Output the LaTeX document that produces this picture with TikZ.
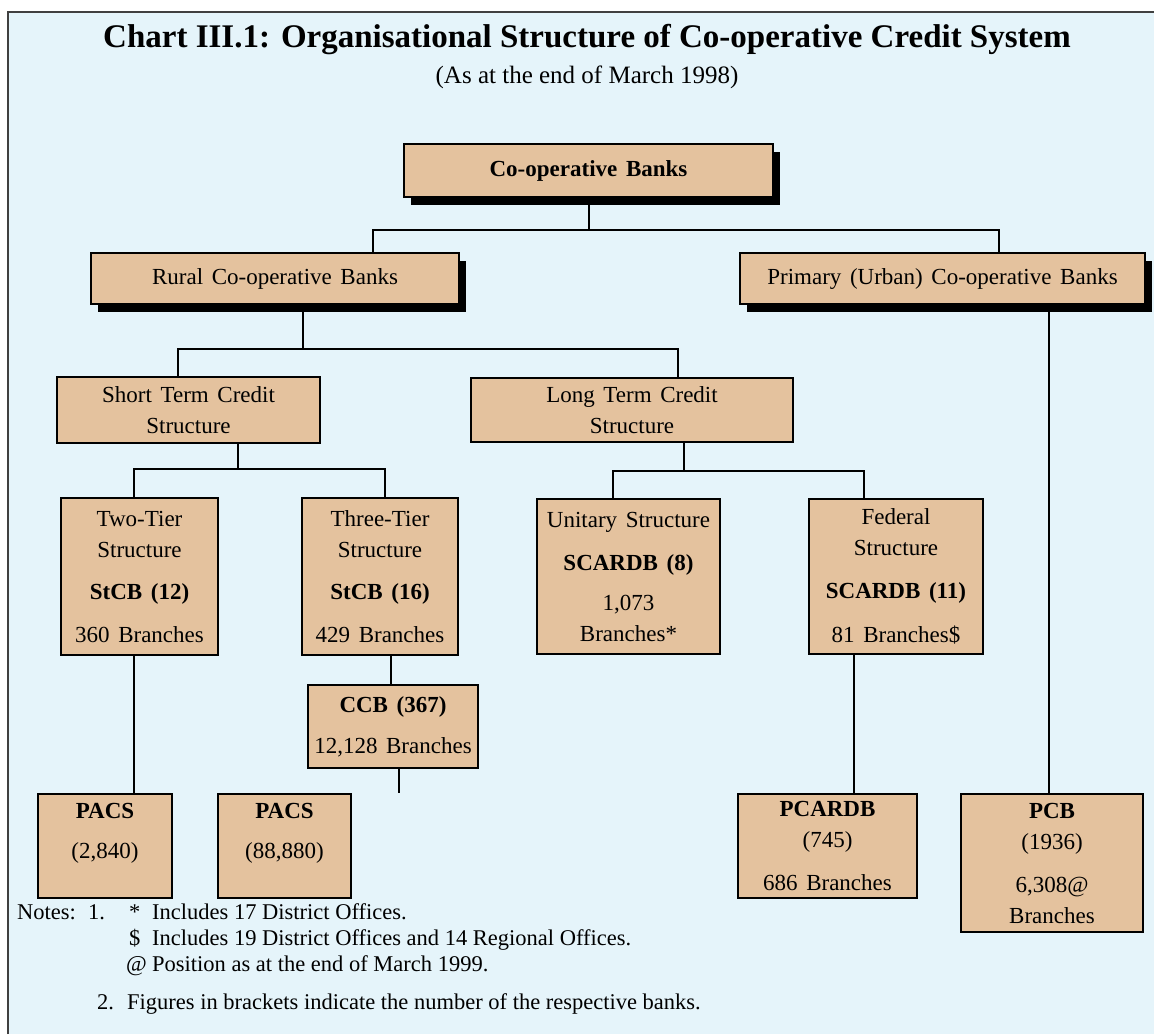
\documentclass[tikz,border=0pt]{standalone}
\usepackage{fontspec}
\setmainfont{Liberation Serif}
\newfontfamily\boxfont[WordSpace=1.5]{Liberation Serif}
\usepackage{tikz}
\usetikzlibrary{shadows}
\definecolor{chartbg}{RGB}{229,244,250}
\definecolor{banktan}{RGB}{228,194,158}

\begin{document}
\begin{tikzpicture}[x=1pt, y=-1pt, font=\boxfont\fontsize{23}{31}\selectfont,
	box/.style={draw=black, line width=2pt, fill=banktan, anchor=north west, align=center, inner sep=0pt},
	shadowbox/.style={box, drop shadow={shadow xshift=7pt, shadow yshift=-8pt, fill=black, opacity=1}},
	link/.style={line width=2pt},
	note/.style={anchor=base west, inner sep=0pt, font=\fontsize{22.5}{26}\selectfont}]
	\useasboundingbox (0,0) rectangle (1154,1034);
	\fill[chartbg] (8,12) rectangle (1154,1034);
	\draw[color=black!75, line width=2pt] (8,1034) -- (8,12) -- (1154,12);
	\node[anchor=base, font=\bfseries\fontsize{33}{36}\selectfont] (title) at (587,47) {Chart III.1: Organisational Structure of Co-operative Credit System};
	\node[anchor=base, font=\fontsize{25}{30}\selectfont] (subtitle) at (587,83) {(As at the end of March 1998)};
	% boxes, top to bottom
	\node[shadowbox, minimum width=369, minimum height=53, font=\boxfont\bfseries\fontsize{23}{31}\selectfont] (top) at (403,143) {Co-operative Banks};
	\node[shadowbox, minimum width=368, minimum height=51] (rural) at (90,252) {Rural Co-operative Banks};
	\node[shadowbox, minimum width=405, minimum height=51] (urban) at (739,252) {Primary (Urban) Co-operative Banks};
	\node[box, minimum width=263, minimum height=66] (short) at (56,376) {Short Term Credit\\Structure};
	\node[box, minimum width=322, minimum height=64] (long) at (470,377) {Long Term Credit\\Structure};
	\node[box, minimum width=157, minimum height=157] (two) at (60,497) {Two-Tier\\Structure\\[11pt]\textbf{StCB (12)}\\[12pt]360 Branches};
	\node[box, minimum width=156, minimum height=157] (three) at (301,497) {Three-Tier\\Structure\\[11pt]\textbf{StCB (16)}\\[12pt]429 Branches};
	\node[box, minimum width=183, minimum height=155] (unit) at (536,498) {Unitary Structure\\[12pt]\textbf{SCARDB (8)}\\[9pt]1,073\\Branches*};
	\node[box, minimum width=174, minimum height=155] (fed) at (808,498) {Federal\\Structure\\[12pt]\textbf{SCARDB (11)}\\[13pt]81 Branches\$};
	\node[box, minimum width=170, minimum height=83] (ccb) at (307,684) {\textbf{CCB (367)}\\[10pt]12,128 Branches};
	\node[box, minimum width=134, minimum height=104, text depth=30pt] (pacsA) at (37,793) {\textbf{PACS}\\[9pt](2,840)};
	\node[box, minimum width=133, minimum height=104, text depth=30pt] (pacsB) at (217,793) {\textbf{PACS}\\[9pt](88,880)};
	\node[box, minimum width=179, minimum height=104] (pcardb) at (737,793) {\textbf{PCARDB}\\(745)\\[12pt]686 Branches};
	\node[box, minimum width=182, minimum height=138] (pcb) at (960,793) {\textbf{PCB}\\(1936)\\[12pt]6,308@\\Branches};
	% junctions of the connectors
	\coordinate (bus1) at ([yshift=-32pt]top.south);
	\coordinate (bus2) at ([xshift=28pt, yshift=-44pt]rural.south);
	\coordinate (bus3) at ([xshift=49.5pt, yshift=-25pt]short.south);
	\coordinate (bus4) at ([xshift=52pt, yshift=-28pt]long.south);
	\draw[link] (top.south) -- (bus1);
	\draw[link] ([xshift=98pt]rural.north) |- (bus1) -| ([xshift=56.5pt]urban.north);
	\draw[link] ([xshift=28pt]rural.south) -- (bus2);
	\draw[link] ([xshift=-10.5pt]short.north) |- (bus2) -| ([xshift=46pt]long.north);
	\draw[link] ([xshift=49.5pt]short.south) -- (bus3);
	\draw[link] ([xshift=-5.5pt]two.north) |- (bus3) -| ([xshift=5pt]three.north);
	\draw[link] ([xshift=52pt]long.south) -- (bus4);
	\draw[link] ([xshift=-15.5pt]unit.north) |- (bus4) -| ([xshift=-32pt]fed.north);
	\draw[link] ([xshift=11pt]three.south) -- ([xshift=-2pt]ccb.north);
	\draw[link] ([xshift=6pt]ccb.south) -- ([xshift=114.5pt]pacsB.north);
	\draw[link] ([xshift=-5.5pt]two.south) -- ([xshift=29pt]pacsA.north);
	\draw[link] ([xshift=-42pt]fed.south) -- ([xshift=26.5pt]pcardb.north);
	\draw[link] ([xshift=106.5pt]urban.south) -- ([xshift=-3pt]pcb.north);
	% notes
	\node[note] (notes) at (17,919) {Notes:};
	\node[note] (num1) at (88,919) {1.};
	\node[note] (mark1) at (129,919) {*};
	\node[note] (text1) at (152,919) {Includes 17 District Offices.};
	\node[note] (mark2) at (129,945) {\$};
	\node[note] (text2) at (152,945) {Includes 19 District Offices and 14 Regional Offices.};
	\node[note] (mark3) at (126,971) {@};
	\node[note] (text3) at (152,971) {Position as at the end of March 1999.};
	\node[note] (num2) at (97,1009) {2.};
	\node[note] (text4) at (127,1009) {Figures in brackets indicate the number of the respective banks.};
\end{tikzpicture}
\end{document}
